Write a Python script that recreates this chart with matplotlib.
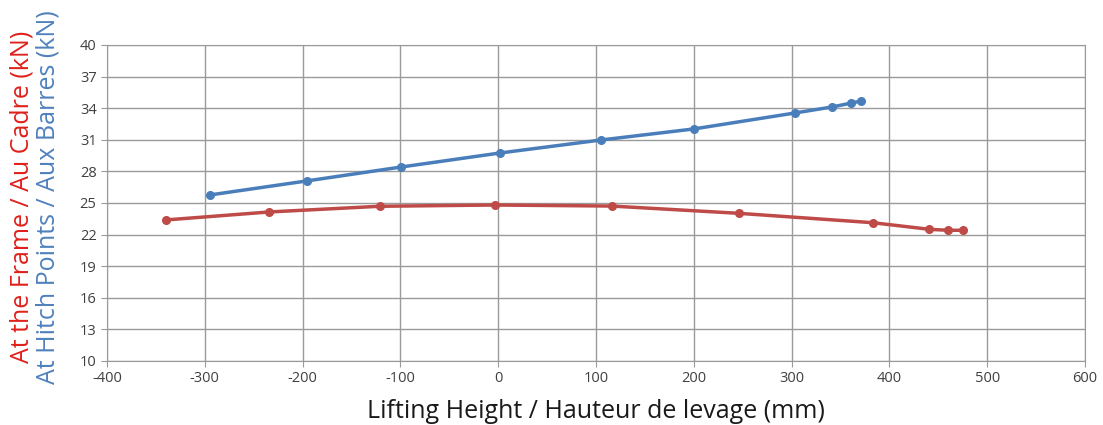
import matplotlib.pyplot as plt

plt.rcParams['font.family'] = ['Open Sans', 'DejaVu Sans']
plt.rcParams['axes.unicode_minus'] = False

# hitch points / aux barres
x_hitch = [-295, -196, -99, 2, 105, 200, 303, 341, 361, 371]
y_hitch = [25.76, 27.09, 28.42, 29.75, 30.98, 32.03, 33.54, 34.11, 34.49, 34.68]

# frame / au cadre
x_frame = [-340, -234, -121, -3, 116, 246, 383, 441, 460, 475]
y_frame = [23.39, 24.15, 24.69, 24.81, 24.71, 24.02, 23.13, 22.50, 22.41, 22.41]

xticks = list(range(-400, 601, 100))
yticks = list(range(10, 41, 3))

fig = plt.figure(figsize=(11.03, 4.25), dpi=100)
ax = fig.add_axes([107/1103, 1 - 361/425, (1085-107)/1103, (361-45)/425])

ax.plot(x_hitch, y_hitch, color="#4A7EBB", lw=2.5, marker="o", ms=5.5)
ax.plot(x_frame, y_frame, color="#BE4B48", lw=2.5, marker="o", ms=5.5)

ax.set_xlim(-400, 600)
ax.set_ylim(10, 40)
ax.set_xticks(xticks)
ax.set_yticks(yticks)
ax.grid(True, color="#9a9a9a", lw=1)
ax.set_axisbelow(True)
for s in ax.spines.values():
    s.set_color("#9a9a9a")
ax.tick_params(colors="#9a9a9a", length=4, labelcolor="#404040", labelsize=10.5)

ax.set_xlabel("Lifting Height / Hauteur de levage (mm)", fontsize=18, color="#1a1a1a", labelpad=9)

fig.text(22/1103, 1 - 197/425, "At the Frame / Au Cadre (kN)", rotation=90,
         color="#E0201B", fontsize=18, ha="center", va="center")
fig.text(48/1103, 1 - 197/425, "At Hitch Points / Aux Barres (kN)", rotation=90,
         color="#4F81BD", fontsize=18, ha="center", va="center")

fig.savefig("out.png", dpi=100)
